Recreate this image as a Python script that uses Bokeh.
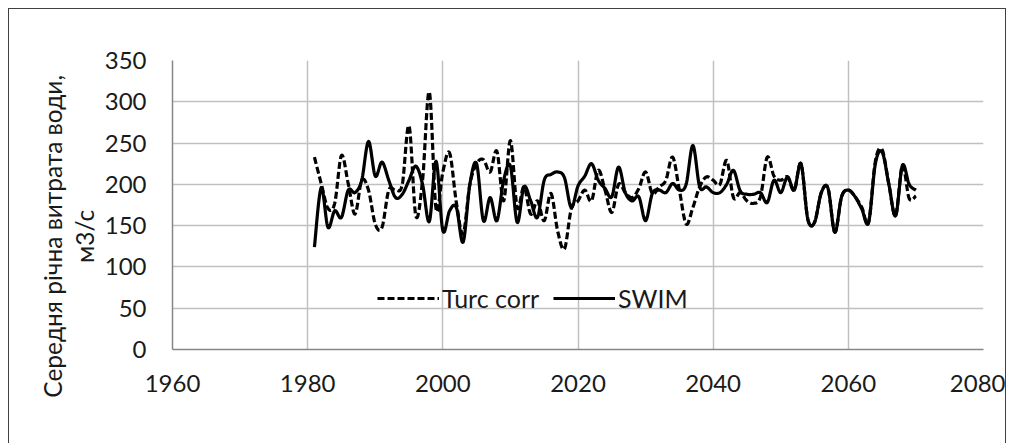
import numpy as np
from bokeh.plotting import figure
from bokeh.models import Range1d, FixedTicker, Legend, LegendItem
from bokeh.embed import file_html
from bokeh.resources import INLINE

# ---- data ----
years = list(range(1981, 2071))

turc_corr = [
    233, 201, 171, 177, 235, 201, 164, 205, 193, 152,   # 1981-1990
    148, 193, 193, 200, 271, 162, 205, 312, 170, 215,   # 1991-2000
    238, 178, 140, 200, 225, 230, 215, 240, 180, 253,   # 2001-2010
    172, 197, 164, 180, 156, 189, 143, 122, 170, 180,   # 2011-2020
    193, 180, 217, 193, 166, 200, 190, 184, 195, 215,   # 2021-2030
    189, 197, 205, 233, 193, 152, 172, 197, 209, 205,   # 2031-2040
    200, 229, 184, 190, 180, 177, 185, 233, 210, 205,   # 2041-2050
    209, 193, 225, 158, 154, 190, 195, 142, 185, 193,   # 2051-2060
    185, 172, 154, 228, 242, 200, 162, 223, 183, 186,   # 2061-2070
]

swim = [
    124, 196, 148, 168, 160, 193, 190, 205, 252, 210,   # 1981-1990
    227, 205, 184, 188, 205, 222, 200, 155, 228, 144,   # 1991-2000
    168, 172, 130, 200, 225, 156, 184, 156, 205, 222,   # 2001-2010
    154, 197, 180, 160, 205, 212, 215, 208, 172, 198,   # 2011-2020
    210, 225, 205, 195, 185, 221, 190, 180, 185, 156,   # 2021-2030
    189, 193, 190, 201, 193, 200, 247, 197, 197, 190,   # 2031-2040
    190, 200, 217, 192, 188, 188, 190, 178, 205, 190,   # 2041-2050
    209, 193, 225, 158, 154, 190, 195, 142, 185, 193,   # 2051-2060
    185, 170, 154, 225, 239, 200, 162, 223, 200, 193,   # 2061-2070
]

x_ticks = [1960, 1980, 2000, 2020, 2040, 2060, 2080]
y_ticks = [0, 50, 100, 150, 200, 250, 300, 350]

series_names = ["Turc corr", "SWIM"]
y_label_lines = ["Середня річна витрата води,", "м3/с"]


def smooth(xs, ys, n=14):
    """Excel-style smoothed line (Catmull-Rom Bezier through the data points)."""
    xs = np.asarray(xs, float)
    ys = np.asarray(ys, float)
    m = len(xs)
    ox, oy = [], []
    ts = np.linspace(0.0, 1.0, n, endpoint=False)
    for i in range(m - 1):
        i0, i1, i2, i3 = max(i - 1, 0), i, i + 1, min(i + 2, m - 1)
        p0 = np.array([xs[i0], ys[i0]])
        p1 = np.array([xs[i1], ys[i1]])
        p2 = np.array([xs[i2], ys[i2]])
        p3 = np.array([xs[i3], ys[i3]])
        c1 = p1 + (p2 - p0) / 6.0
        c2 = p2 - (p3 - p1) / 6.0
        for t in ts:
            b = ((1 - t) ** 3) * p1 + 3 * ((1 - t) ** 2) * t * c1 + 3 * (1 - t) * t * t * c2 + t ** 3 * p2
            ox.append(b[0])
            oy.append(b[1])
    ox.append(xs[-1])
    oy.append(ys[-1])
    return ox, oy


FONT = "Lato"
TXT = "#1a1a1a"

p = figure(
    width=998, height=435,
    x_range=Range1d(1960, 2080), y_range=Range1d(0, 350),
    output_backend="svg", toolbar_location=None,
    min_border_left=163, min_border_right=24,
    min_border_top=51, min_border_bottom=95,
)
p.styles = {
    "margin-left": "8px", "margin-top": "8px",
    "border-left": "1px solid #404040",
    "border-top": "1px solid #404040",
    "border-right": "1px solid #404040",
}
p.outline_line_color = None
p.background_fill_color = "white"
p.border_fill_color = "white"

# axes
p.xaxis.ticker = FixedTicker(ticks=x_ticks)
p.yaxis.ticker = FixedTicker(ticks=y_ticks)
for ax in (p.xaxis[0], p.yaxis[0]):
    ax.major_tick_line_color = None
    ax.minor_tick_line_color = None
    ax.axis_line_color = "#868686"
    ax.axis_line_width = 1.5
    ax.major_label_text_font = FONT
    ax.major_label_text_font_size = "24px"
    ax.major_label_text_color = TXT
p.xaxis.major_label_standoff = 19
p.yaxis.major_label_standoff = 20

# y-axis title: two lines; trailing no-break spaces push the visible text
# a little below the frame centre, as in the reference
pad = "\u00a0" * 10
p.yaxis.axis_label = "\n".join(line + pad for line in y_label_lines)
p.yaxis.axis_label_text_font = FONT
p.yaxis.axis_label_text_font_size = "24.5px"
p.yaxis.axis_label_text_font_style = "normal"
p.yaxis.axis_label_text_color = TXT
p.yaxis.axis_label_text_line_height = 1.1
p.yaxis.axis_label_standoff = 3

p.xgrid.ticker = FixedTicker(ticks=x_ticks)
p.ygrid.ticker = FixedTicker(ticks=y_ticks)
for g in (p.xgrid[0], p.ygrid[0]):
    g.grid_line_color = "#c0c0c0"
    g.grid_line_width = 1.5

# series
tx, ty = smooth(years, turc_corr)
sx, sy = smooth(years, swim)
r_turc = p.line(tx, ty, line_color="black", line_width=3.2, line_dash="7 3", line_join="round")
r_swim = p.line(sx, sy, line_color="black", line_width=3.2, line_join="round")

legend = Legend(
    items=[LegendItem(label=series_names[0], renderers=[r_turc]),
           LegendItem(label=series_names[1], renderers=[r_swim])],
    orientation="horizontal",
    location=(205, 36),
    glyph_width=62, glyph_height=24,
    label_standoff=3, spacing=14, padding=0, margin=0,
    label_text_font=FONT, label_text_font_size="25px", label_text_color=TXT,
    border_line_color=None, background_fill_alpha=0,
)
p.add_layout(legend, "center")

open("out.html", "w").write(file_html(p, INLINE))
